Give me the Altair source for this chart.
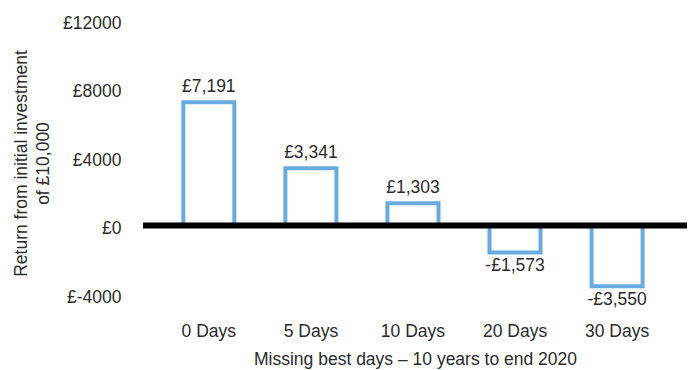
import altair as alt
import pandas as pd

categories = ["0 Days", "5 Days", "10 Days", "20 Days", "30 Days"]
values = [7191, 3341, 1303, -1573, -3550]
labels = ["£7,191", "£3,341", "£1,303", "-£1,573", "-£3,550"]

df = pd.DataFrame({"cat": categories, "val": values, "lab": labels})

FONT = "Liberation Sans"
TXT = "#2b2b2b"
BLUE = "#68ABE0"
FS = 17.5

x = alt.X(
    "cat:N",
    sort=categories,
    scale=alt.Scale(paddingInner=0.5, paddingOuter=0.415, align=0.476),
    axis=alt.Axis(
        title="Missing best days – 10 years to end 2020",
        labelAngle=0,
        labelPadding=28,
        titlePadding=11,
    ),
)
y = alt.Y(
    "val:Q",
    scale=alt.Scale(domain=[-4000, 12000], nice=False),
    axis=alt.Axis(
        title=["Return from initial investment", "of £10,000"],
        values=[-4000, 0, 4000, 8000, 12000],
        labelExpr="'£' + datum.value",
        labelPadding=22,
        labelOffset=3,
        titlePadding=10,
        titleLineHeight=22,
        titleY=143,
    ),
)

base = alt.Chart(df)

bars = base.mark_bar(fill="white", stroke=BLUE, strokeWidth=4).encode(x=x, y=y)

pos_text = base.transform_filter("datum.val >= 0").mark_text(
    baseline="alphabetic", dy=-10, font=FONT, fontSize=FS, color=TXT
).encode(x=x, y=y, text="lab:N")

neg_text = base.transform_filter("datum.val < 0").mark_text(
    baseline="alphabetic", dy=19, font=FONT, fontSize=FS, color=TXT
).encode(x=x, y=y, text="lab:N")

zero = alt.Chart(pd.DataFrame({"z": [0]})).mark_rule(color="black", strokeWidth=6).encode(
    y=alt.Y("z:Q", scale=alt.Scale(domain=[-4000, 12000], nice=False))
)

chart = (
    alt.layer(bars, zero, pos_text, neg_text)
    .properties(
        width=544,
        height=274,
        padding={"left": 143, "top": 20, "right": 5, "bottom": 76},
        autosize=alt.AutoSizeParams(type="none"),
    )
    .configure_view(stroke=None)
    .configure_axis(
        grid=False,
        domain=False,
        ticks=False,
        labelFont=FONT,
        titleFont=FONT,
        labelFontSize=FS,
        titleFontSize=FS,
        labelColor=TXT,
        titleColor=TXT,
        titleFontWeight="normal",
    )
)

chart.save("out.html", embed_options={"renderer": "svg", "actions": False})
